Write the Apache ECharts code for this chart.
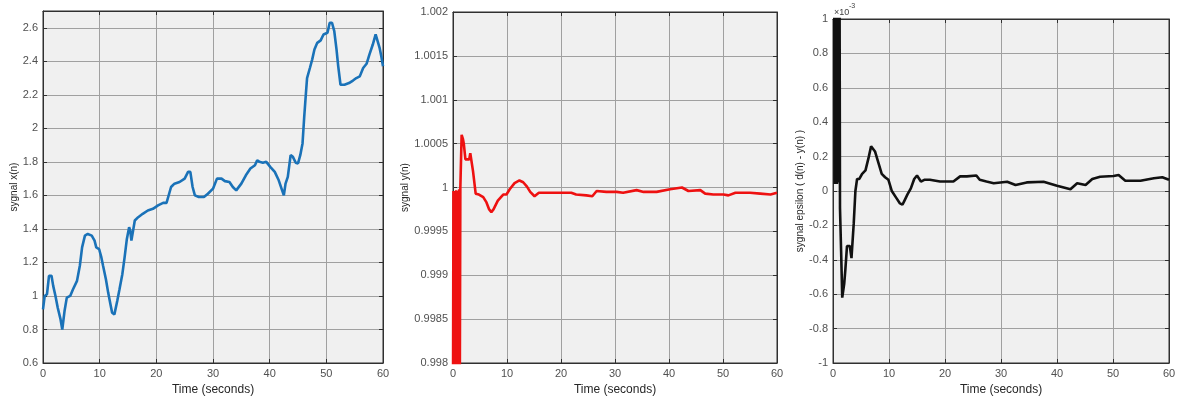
<!DOCTYPE html>
<html>
<head>
<meta charset="utf-8">
<script src="https://cdn.jsdelivr.net/npm/echarts@6/dist/echarts.min.js"></script>
<style>html,body{margin:0;padding:0;background:#fff}#c{width:1180px;height:396px}</style>
</head>
<body>
<div id="c"></div>
<script>
// ---- data (time in seconds) ----
const timeX = [0,0.3,0.7,1.06,1.5,1.8,2.2,2.6,3.1,3.4,3.8,4.2,4.8,5.3,6.0,6.5,6.9,7.4,7.9,8.6,9.1,9.4,9.9,10.3,10.6,11.1,11.5,11.9,12.2,12.6,13.1,13.5,14.0,14.4,14.8,15.2,15.4,15.6,15.9,16.2,16.8,17.6,18.5,19.4,20.3,21.2,21.8,22.6,23.2,24.1,25.0,25.6,26.0,26.4,26.8,27.5,28.4,29.1,30.0,30.7,31.5,32.1,32.9,33.5,34.1,34.4,35.0,35.8,36.6,37.4,37.8,38.2,38.8,39.4,40.1,40.9,41.6,42.2,42.5,42.8,43.2,43.7,44.1,44.6,45.0,45.4,45.8,46.1,46.4,46.6,47.1,47.5,47.9,48.4,49.0,49.5,50.2,50.6,51.0,51.4,51.8,52.1,52.5,53.2,54.0,54.7,55.3,55.9,56.5,57.1,57.6,58.2,58.7,59.0,59.4,59.7,60];
const valX  = [0.92,1.0,1.01,1.12,1.12,1.06,1.0,0.93,0.86,0.80,0.91,0.99,1.0,1.04,1.09,1.18,1.29,1.36,1.37,1.36,1.33,1.29,1.28,1.23,1.18,1.10,1.02,0.95,0.90,0.89,0.97,1.04,1.13,1.23,1.34,1.41,1.39,1.33,1.33,1.45,1.47,1.49,1.51,1.52,1.54,1.555,1.555,1.65,1.67,1.68,1.70,1.74,1.74,1.65,1.60,1.59,1.59,1.61,1.64,1.70,1.70,1.685,1.68,1.65,1.63,1.63,1.67,1.72,1.76,1.78,1.81,1.80,1.795,1.80,1.77,1.74,1.69,1.63,1.60,1.67,1.71,1.84,1.83,1.795,1.79,1.84,1.91,2.07,2.21,2.30,2.36,2.41,2.47,2.51,2.525,2.56,2.57,2.63,2.63,2.58,2.47,2.37,2.26,2.26,2.27,2.285,2.30,2.31,2.36,2.385,2.44,2.50,2.56,2.555,2.48,2.43,2.37];

const timeY = [0,0.08,0.16,0.24,0.32,0.4,0.48,0.6,0.7,0.85,0.95,1.05,1.15,1.25,1.36,1.6,1.85,2.0,2.3,3.0,3.2,3.5,3.7,4.2,4.8,5.6,6.2,6.7,7.1,7.5,8.3,9.3,9.9,10.5,11.4,12.3,13.0,13.7,14.3,15.1,15.5,15.9,16.7,17.9,19.1,20.4,21.9,22.8,24.7,25.8,26.6,28.4,30.3,31.5,34.0,35.3,37.7,40.2,42.4,43.6,45.8,46.7,48.2,50.1,51.0,52.3,55.0,56.9,58.8,60];
const valY  = [0.9975,0.99996,0.9975,0.99996,0.9975,0.99996,0.9975,0.99997,0.9975,0.9975,0.99996,0.9975,0.99998,0.9975,1.0,1.0006,1.00055,1.0005,1.00032,1.00032,1.00039,1.00038,1.00019,0.99993,0.99992,0.99989,0.99983,0.99975,0.99972,0.99975,0.99985,0.99992,0.99992,0.99998,1.00005,1.00008,1.00006,1.00001,0.99995,0.9999,0.99992,0.99994,0.99994,0.99994,0.99994,0.99994,0.99994,0.99992,0.99991,0.9999,0.99996,0.99995,0.99995,0.99994,0.99997,0.99995,0.99995,0.99998,1.0,0.99996,0.99997,0.99993,0.99992,0.99992,0.99991,0.99994,0.99994,0.99993,0.99992,0.99994];

// epsilon values in units of 1e-3
const timeE = [0.2,0.3,0.4,0.5,0.6,0.7,0.8,0.9,1.0,1.1,1.15,1.25,1.45,1.65,1.8,2.0,2.2,2.5,3.0,3.3,3.4,3.7,4.0,4.3,4.7,5.2,5.8,6.4,6.8,7.1,7.5,8.1,8.7,9.3,9.9,10.5,11.3,11.9,12.4,12.7,13.3,13.9,14.5,15.0,15.3,15.7,16.3,17.3,19.1,21.5,22.7,23.9,25.6,26.2,27.4,28.7,31.1,32.6,34.6,37.6,40.0,42.4,43.6,45.1,46.3,47.7,50.1,51.0,52.2,54.9,57.3,58.8,60];
const valE  = [1.5,0.04,1.5,0.04,1.5,0.04,1.5,0.05,1.5,0.25,1.5,-0.1,-0.35,-0.62,-0.62,-0.54,-0.46,-0.32,-0.32,-0.39,-0.39,-0.19,0.0,0.07,0.07,0.10,0.12,0.20,0.26,0.27,0.23,0.165,0.10,0.08,0.065,0.0,-0.04,-0.07,-0.08,-0.06,-0.02,0.015,0.07,0.09,0.09,0.055,0.065,0.065,0.055,0.055,0.085,0.085,0.09,0.065,0.055,0.045,0.054,0.035,0.05,0.054,0.03,0.01,0.045,0.035,0.07,0.083,0.087,0.093,0.06,0.06,0.074,0.08,0.065];

// tick labels
const xTicks  = [0,10,20,30,40,50,60];
const yTicks1 = [0.6,0.8,1,1.2,1.4,1.6,1.8,2,2.2,2.4,2.6];
const yTicks2 = [0.998,0.9985,0.999,0.9995,1,1.0005,1.001,1.0015,1.002];
const yTicks3 = [-1,-0.8,-0.6,-0.4,-0.2,0,0.2,0.4,0.6,0.8,1];

function pairs(t, v){ return t.map((x,i)=>[x, v[i]]); }
function tickFmt(list){
  return function(val){
    for (const t of list) if (Math.abs(t - val) < 1e-9) return String(t);
    return '';
  };
}

const FONT = 'Liberation Sans, Arial, sans-serif';
const grids = [
  {left:43, top:11, width:340, height:352},
  {left:453, top:12, width:324, height:351},
  {left:833, top:19, width:336, height:344}
];
const yCfg = [
  {min:0.6, max:2.7, interval:0.2, ticks:yTicks1, name:'sygnal x(n)', gap:20},
  {min:0.998, max:1.002, interval:0.0005, ticks:yTicks2, name:'sygnal y(n)', gap:40},
  {min:-1, max:1, interval:0.2, ticks:yTicks3, name:'sygnal epsilon ( d(n) - y(n) )', gap:24}
];
const lineColor = '#303030';
const gridColor = '#a0a0a0';

const option = {
  animation:false,
  backgroundColor:'#ffffff',
  grid: grids.map(g=>Object.assign({show:true, backgroundColor:'#f0f0f0', borderColor:lineColor, borderWidth:1, containLabel:false, outerBoundsMode:'none'}, g)),
  xAxis: [],
  yAxis: [],
  series: [],
  graphic: [
    {type:'text', left:834, top:8, style:{text:'×10', fontSize:9, fontFamily:FONT, fill:'#404040'}},
    {type:'text', left:849, top:3, style:{text:'-3', fontSize:7, fontFamily:FONT, fill:'#404040'}}
  ]
};

for (let i=0;i<3;i++){
  option.xAxis.push({
    type:'value', gridIndex:i, min:0, max:60, interval:10, position:'bottom',
    name:'Time (seconds)', nameLocation:'middle', nameGap:17,
    nameTextStyle:{fontSize:12, fontFamily:FONT, color:'#262626'},
    axisLine:{show:true, onZero:false, lineStyle:{color:lineColor}},
    axisTick:{show:true, inside:true, length:4, lineStyle:{color:lineColor}},
    axisLabel:{fontSize:11, fontFamily:FONT, color:'#505050', margin:5, formatter:tickFmt(xTicks)},
    splitLine:{show:true, lineStyle:{color:gridColor, width:1}}
  });
  option.xAxis.push({
    type:'value', gridIndex:i, min:0, max:60, interval:10, position:'top',
    axisLine:{show:true, onZero:false, lineStyle:{color:lineColor}},
    axisTick:{show:true, inside:true, length:4, lineStyle:{color:lineColor}},
    axisLabel:{show:false}, splitLine:{show:false}
  });
  const c = yCfg[i];
  option.yAxis.push({
    type:'value', gridIndex:i, min:c.min, max:c.max, interval:c.interval, position:'left',
    name:c.name, nameLocation:'middle', nameGap:c.gap, nameRotate:90,
    nameTextStyle:{fontSize:10, fontFamily:FONT, color:'#262626'},
    axisLine:{show:true, onZero:false, lineStyle:{color:lineColor}},
    axisTick:{show:true, inside:true, length:4, lineStyle:{color:lineColor}},
    axisLabel:{fontSize:11, fontFamily:FONT, color:'#505050', margin:5, showMaxLabel: i!==0, formatter:tickFmt(c.ticks)},
    splitLine:{show:true, lineStyle:{color:gridColor, width:1}}
  });
  option.yAxis.push({
    type:'value', gridIndex:i, min:c.min, max:c.max, interval:c.interval, position:'right',
    axisLine:{show:true, onZero:false, lineStyle:{color:lineColor}},
    axisTick:{show:true, inside:true, length:4, lineStyle:{color:lineColor}},
    axisLabel:{show:false}, splitLine:{show:false}
  });
}

const seriesDefs = [
  {data:pairs(timeX, valX), color:'#1a72b8'},
  {data:pairs(timeY, valY), color:'#ee1111'},
  {data:pairs(timeE, valE), color:'#111111'}
];
seriesDefs.forEach((s,i)=>{
  option.series.push({
    type:'line', xAxisIndex:i*2, yAxisIndex:i*2, data:s.data, showSymbol:false, symbol:'none',
    clip:true, smooth:false, lineStyle:{color:s.color, width:2.6}, z:3
  });
});

const chart = echarts.init(document.getElementById('c'), null, {renderer:'canvas'});
chart.setOption(option);
</script>
</body>
</html>
